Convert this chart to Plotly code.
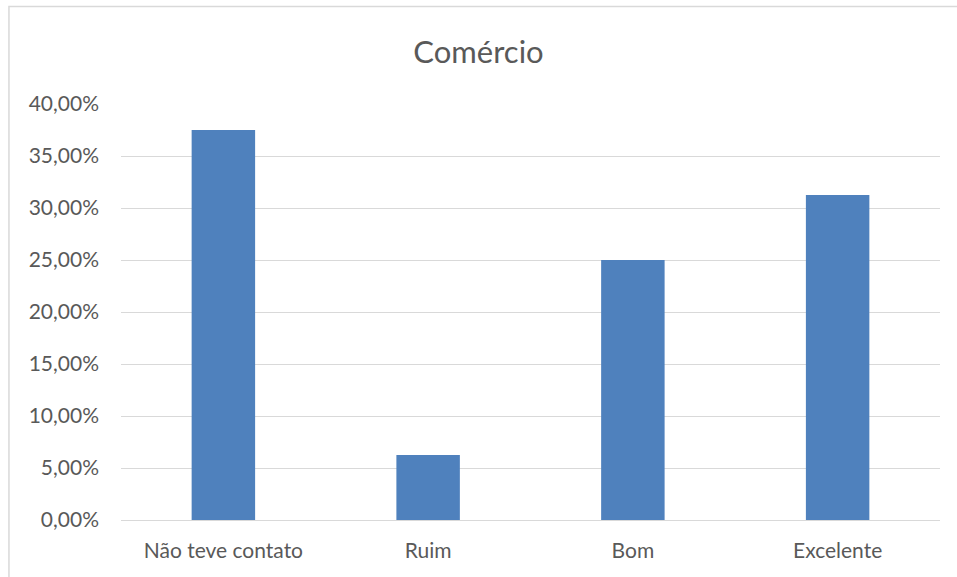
import plotly.graph_objects as go

# ─── DATA ────────────────────────────────────────────────────────────────────
categories = ["Não teve contato", "Ruim", "Bom", "Excelente"]
shares = [0.375, 0.0625, 0.25, 0.3125]
tick_vals = [0, 0.05, 0.10, 0.15, 0.20, 0.25, 0.30, 0.35, 0.40]

BAR = "#4f81bd"
GRID = "#d9d9d9"
TEXT = "#595959"
FONT = "Lato"

fig = go.Figure(go.Bar(
    x=categories, y=shares,
    marker=dict(color=BAR, line_width=0),
    width=0.31,
    showlegend=False,
))

# chart frame: only top and left edges fall inside the picture
fig.add_shape(type="rect", xref="paper", yref="paper",
              x0=-0.1368, x1=1.05, y0=-0.2, y1=1.2344,
              line=dict(color="#d9d9d9", width=1.5), fillcolor="rgba(0,0,0,0)")

fig.update_layout(
    width=957, height=577,
    margin=dict(l=121, r=17, t=104, b=57),
    paper_bgcolor="white", plot_bgcolor="white",
    separators=",.",
    font=dict(family=FONT, color=TEXT, size=21),
    title=dict(text="Comércio", x=0.5, xanchor="center",
               y=0.91, yanchor="middle",
               font=dict(family=FONT, size=31, color=TEXT)),
)
fig.update_xaxes(showgrid=False, showline=False, ticks="",
                 tickfont=dict(size=21, color=TEXT), ticklabelstandoff=16)
fig.update_yaxes(range=[0, 0.40], tickvals=tick_vals, tickformat=".2%",
                 showgrid=True, gridcolor=GRID, gridwidth=1.3,
                 zeroline=True, zerolinecolor=GRID, zerolinewidth=1.3,
                 showline=False, ticks="", ticklabelstandoff=21,
                 tickfont=dict(size=21, color=TEXT))

# drop the browser's default body margin so the figure sits at the page origin
fig.write_html("out.html", config={"displayModeBar": False},
               post_script="document.body.style.margin='0';")
